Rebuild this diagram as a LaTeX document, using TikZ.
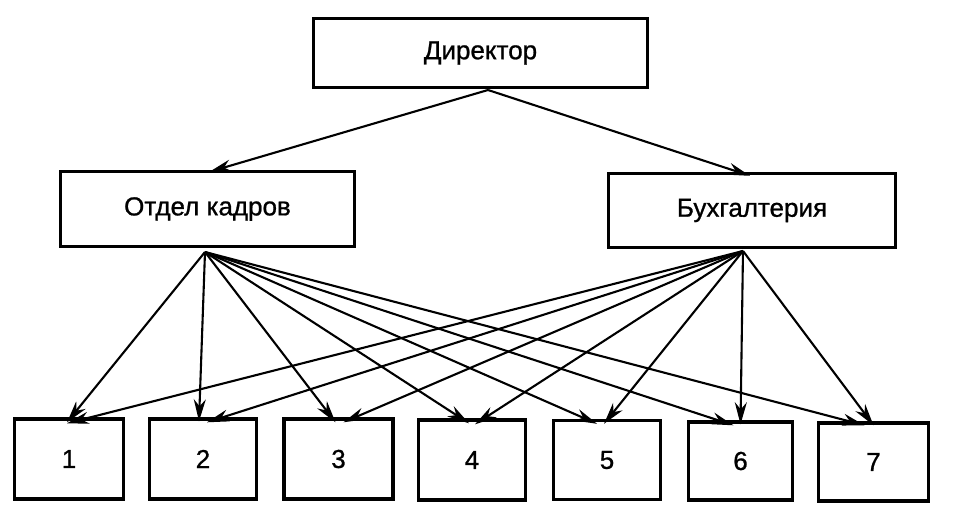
\documentclass[tikz,border=0pt]{standalone}
\usepackage{fontspec}
\setmainfont{Liberation Sans}
\newfontfamily\boxfont[FakeBold=0.9]{Liberation Sans}
\usetikzlibrary{arrows.meta}
\begin{document}
\begin{tikzpicture}[x=1pt,y=-1pt,
  box/.style={draw, line width=3.4pt, inner sep=0pt, font=\boxfont\fontsize{26}{30}\selectfont},
  arr/.style={-{Stealth[length=22pt,width=12pt,inset=7pt]}, line width=2.1pt}]
\useasboundingbox (0,0) rectangle (964,519);
\node[box, minimum width=334pt, minimum height=69pt] (dir) at (480.5,53) {Директор};
\node[box, minimum width=294pt, minimum height=75pt] (ok) at (207.5,209) {Отдел кадров};
\node[box, minimum width=287pt, minimum height=74pt] (bu) at (752,210.5) {Бухгалтерия};
\node[box, minimum width=109pt, minimum height=80pt] (n1) at (69,459) {1};
\node[box, minimum width=107pt, minimum height=80pt] (n2) at (203,459) {2};
\node[box, minimum width=109pt, minimum height=80pt] (n3) at (338.5,459) {3};
\node[box, minimum width=107pt, minimum height=80pt] (n4) at (472,460) {4};
\node[box, minimum width=107pt, minimum height=79pt] (n5) at (607,460) {5};
\node[box, minimum width=104pt, minimum height=78pt] (n6) at (740.5,461) {6};
\node[box, minimum width=110pt, minimum height=78pt] (n7) at (873.5,462) {7};
\coordinate (dsrc) at (488,90);
\coordinate (oksrc) at (205,252);
\coordinate (busrc) at (743,251);
\draw[arr] (dsrc) -- ([xshift=2pt,yshift=-2pt]ok.north);
\draw[arr] (dsrc) -- ([xshift=-2pt,yshift=-4pt]bu.north);
% from Отдел кадров
\draw[arr] (oksrc) -- ([xshift=-2pt,yshift=-5pt]n1.north);
\draw[arr] (oksrc) -- ([xshift=-4pt,yshift=-4pt]n2.north);
\draw[arr] (oksrc) -- ([xshift=-3pt,yshift=-5pt]n3.north);
\draw[arr] (oksrc) -- ([xshift=-3pt,yshift=-5pt]n4.north);
\draw[arr] (oksrc) -- ([xshift=-10pt,yshift=-5pt]n5.north);
\draw[arr] (oksrc) -- ([xshift=-7pt,yshift=-5pt]n6.north);
\draw[arr] (oksrc) -- ([xshift=-9pt,yshift=-4pt]n7.north);
% from Бухгалтерия
\draw[arr] (busrc) -- ([xshift=-2pt,yshift=-6pt]n1.north);
\draw[arr] (busrc) -- ([xshift=4pt,yshift=-5pt]n2.north);
\draw[arr] (busrc) -- ([xshift=5pt,yshift=-5pt]n3.north);
\draw[arr] (busrc) -- ([xshift=3pt,yshift=-6pt]n4.north);
\draw[arr] (busrc) -- ([xshift=-3pt,yshift=-5pt]n5.north);
\draw[arr] (busrc) -- ([xshift=0pt,yshift=-4pt]n6.north);
\draw[arr] (busrc) -- ([xshift=0pt,yshift=-4pt]n7.north);
\end{tikzpicture}
\end{document}
